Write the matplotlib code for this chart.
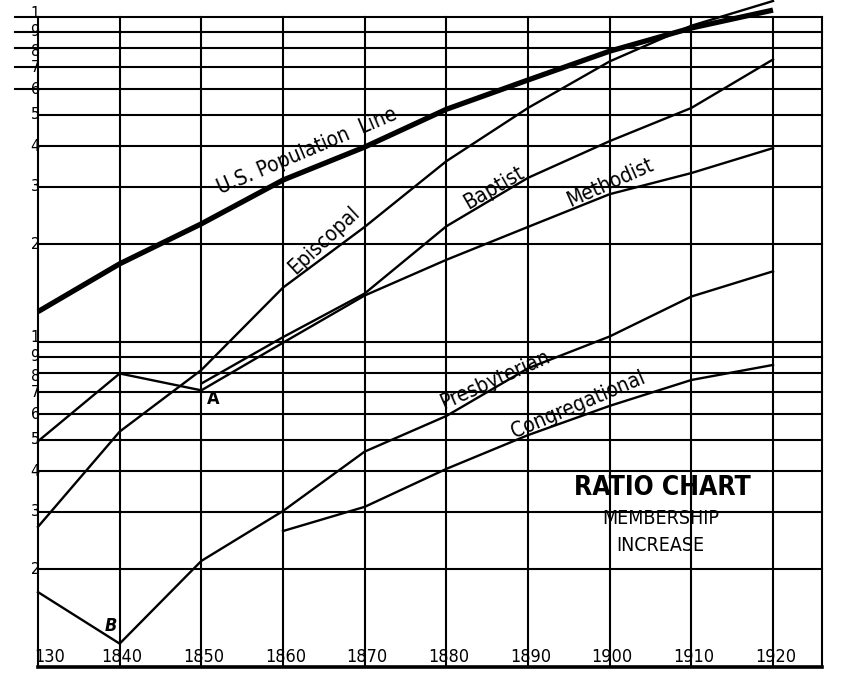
import numpy as np
import matplotlib
matplotlib.use("Agg")
import matplotlib.pyplot as plt
from matplotlib.transforms import blended_transform_factory, offset_copy

plt.rcParams['font.family'] = ['DejaVu Sans']
plt.rcParams['font.stretch'] = 'condensed'

# data (log / ratio scale)
years = [1830, 1840, 1850, 1860, 1870, 1880, 1890, 1900, 1910, 1920]
population = [12.4, 17.4, 23.1, 31.5, 39.8, 52.0, 64.0, 78.5, 92.5, 105.0]
episcopal = [2.7, 5.3, 8.2, 14.7, 22.6, 36.0, 52.5, 73.0, 94.0, 112.0]
methodist = [4.95, 8.0, 7.1, 9.95, 13.9, 17.9, 22.6, 28.5, 33.1, 39.5]
presbyterian = [1.70, 1.18, 2.12, 3.02, 4.6, 5.92, 8.3, 10.4, 13.8, 16.5]
baptist_years = [1850, 1860, 1870, 1880, 1890, 1900, 1910, 1920]
baptist = [7.45, 10.35, 14.1, 22.7, 32.0, 41.5, 52.5, 74.0]
congr_years = [1860, 1870, 1880, 1890, 1900, 1910, 1920]
congregational = [2.62, 3.11, 4.07, 5.17, 6.36, 7.64, 8.5]

grid_vals = [1, 2, 3, 4, 5, 6, 7, 8, 9, 10, 20, 30, 40, 50, 60, 70, 80, 90, 100]
y_labels = ['2', '3', '4', '5', '6', '7', '8', '9', '1',
            '2', '3', '4', '5', '6', '7', '8', '9', '1']
x_labels = ['130', '1840', '1850', '1860', '1870', '1880', '1890', '1900', '1910', '1920']

fig = plt.figure(figsize=(8.46, 6.9), dpi=100)
ax = fig.add_axes([38 / 846, 23 / 690, (822 - 38) / 846, (667 - 17) / 690])
ax.set_yscale('log')
ax.set_xlim(1830, 1926)
ax.set_ylim(1, 100)
ax.axis('off')

# ratio grid
for v in grid_vals:
    ax.plot([1830, 1926], [v, v], color='black', lw=1.5, clip_on=False)
for v in [60, 70, 80, 90, 100]:
    ax.plot([1827.2, 1830], [v, v], color='black', lw=1.5, clip_on=False)
for yr in years + [1926]:
    ax.plot([yr, yr], [1, 100], color='black', lw=1.5, clip_on=False)
ax.plot([1830, 1926], [1, 1], color='black', lw=2.6, clip_on=False)

# series
ax.plot(years, population, color='black', lw=3.8, clip_on=False, solid_capstyle='butt')
ax.plot(years, episcopal, color='black', lw=1.7, clip_on=False)
ax.plot(years, methodist, color='black', lw=1.7, clip_on=False)
ax.plot(baptist_years, baptist, color='black', lw=1.7, clip_on=False)
ax.plot(years, presbyterian, color='black', lw=1.7, clip_on=False)
ax.plot(congr_years, congregational, color='black', lw=1.7, clip_on=False)

# left scale labels (the crowded 1 / 9 / 8 labels spread a little)
for v, lab in zip(grid_vals[1:], y_labels):
    dy = 0
    if v in (10, 100):
        dy = 4
    elif v in (8, 80):
        dy = -3
    tr = offset_copy(ax.transData, fig=fig, x=0, y=dy, units='dots')
    ax.text(1830.2, v, lab, transform=tr, ha='right', va='center', fontsize=11.5, clip_on=False)

# year labels sit inside the bottom of the grid
trans = blended_transform_factory(ax.transData, ax.transAxes)
for yr, lab in zip(years, x_labels):
    if yr == 1830:
        ax.text(1829.6, 0.016, lab, transform=trans, ha='left', va='center', fontsize=13)
    else:
        ax.text(yr + 0.3, 0.016, lab, transform=trans, ha='center', va='center', fontsize=13)

# line labels
kw = dict(ha='center', va='baseline', rotation_mode='anchor', fontsize=15)
ax.text(1863.2, 37.1, 'U.S. Population  Line', rotation=23, **kw)
ax.text(1865.5, 19.9, 'Episcopal', rotation=43, **kw)
ax.text(1886.2, 28.7, 'Baptist', rotation=30, **kw)
ax.text(1900.3, 29.8, 'Methodist', rotation=24, **kw)
ax.text(1886.2, 7.37, 'Presbyterian', rotation=24, **kw)
ax.text(1896.4, 6.18, 'Congregational', rotation=23, **kw)

ax.text(1851.4, 6.68, 'A', ha='center', va='center', fontsize=13, fontweight='bold')
ax.text(1838.9, 1.34, 'B', ha='center', va='center', fontsize=13, fontweight='bold', style='italic')

ax.text(1906.4, 3.55, 'RATIO CHART', ha='center', va='center', fontsize=19, fontweight='bold')
ax.text(1906.2, 2.87, 'MEMBERSHIP', ha='center', va='center', fontsize=14)
ax.text(1906.2, 2.36, 'INCREASE', ha='center', va='center', fontsize=14)

fig.savefig('out.png', dpi=100, facecolor='white')
